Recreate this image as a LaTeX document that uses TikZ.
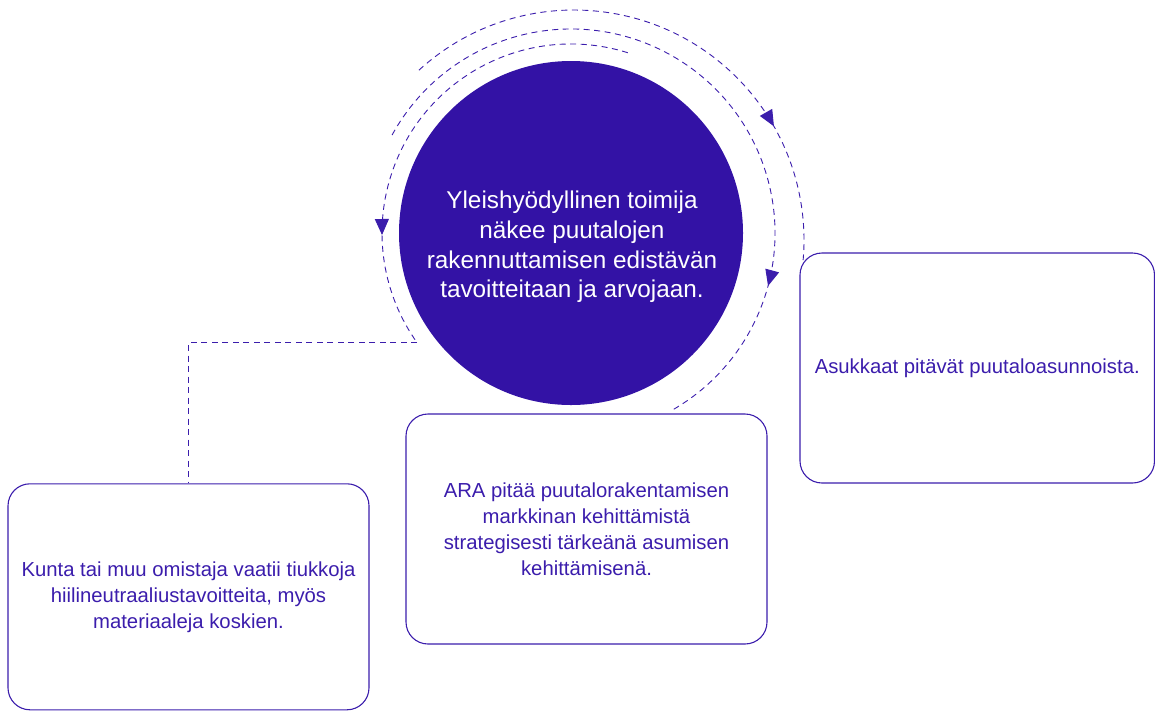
\documentclass[tikz,border=0pt]{standalone}
\usepackage{fontspec}
\setmainfont{Liberation Sans}
\usetikzlibrary{arrows.meta,decorations.markings}
\definecolor{ink}{HTML}{3312A5}
\definecolor{edge}{HTML}{3B1DAC}
\begin{document}
\begin{tikzpicture}[x=1pt,y=-1pt,
  flow/.style={draw=edge, line width=0.9pt, dash pattern=on 6pt off 4.5pt},
  card/.style={draw=edge, line width=1.1pt, rounded corners=22pt, text=edge, align=center,
    font=\fontsize{20.3}{26}\selectfont, inner sep=0pt},
  tipat/.style={postaction={decorate}, decoration={markings,
    mark=at position #1 with {\arrow{Triangle[length=16pt,width=14pt]}}}}
]
\useasboundingbox (0,0) rectangle (1155,710);

% central circle
\node[circle, fill=ink, minimum size=344pt, inner sep=0pt] (hub) at (571,233) {};
\node[text=white, align=center, font=\fontsize{24.3}{29.6}\selectfont] (hubtext) at (572,247)
  {Yleishyödyllinen toimija\\näkee puutalojen\\rakennuttamisen edistävän\\tavoitteitaan ja arvojaan.};

% boxes
\node[card, minimum width=361pt, minimum height=226pt] (kunta) at (188.5,596.8)
  {Kunta tai muu omistaja vaatii tiukkoja\\hiilineutraaliustavoitteita, myös\\materiaaleja koskien.};
\node[card, minimum width=361pt, minimum height=230pt] (ara) at (586.5,529)
  {ARA pitää puutalorakentamisen\\markkinan kehittämistä\\strategisesti tärkeänä asumisen\\kehittämisenä.};
\node[card, minimum width=354.5pt, minimum height=230pt] (asuk) at (977.25,368)
  {Asukkaat pitävät puutaloasunnoista.};

% cycle arcs
\coordinate (c) at (hub.center);
\coordinate (oc) at (574,240);
\draw[flow, tipat=0.748] ([shift={(132.4:230pt)}]oc) arc[start angle=132.4, end angle=-5, radius=230pt];
\draw[flow, tipat=0.788] ([shift={(151.3:204pt)}]c) arc[start angle=151.3, end angle=-59.8, radius=204pt];
\draw[flow, tipat=0.756] ([shift={(72.5:189pt)}]c) arc[start angle=72.5, end angle=215.5, radius=189pt] coordinate (ie);
\draw[flow] (ie) -| (kunta.north);
\end{tikzpicture}
\end{document}
